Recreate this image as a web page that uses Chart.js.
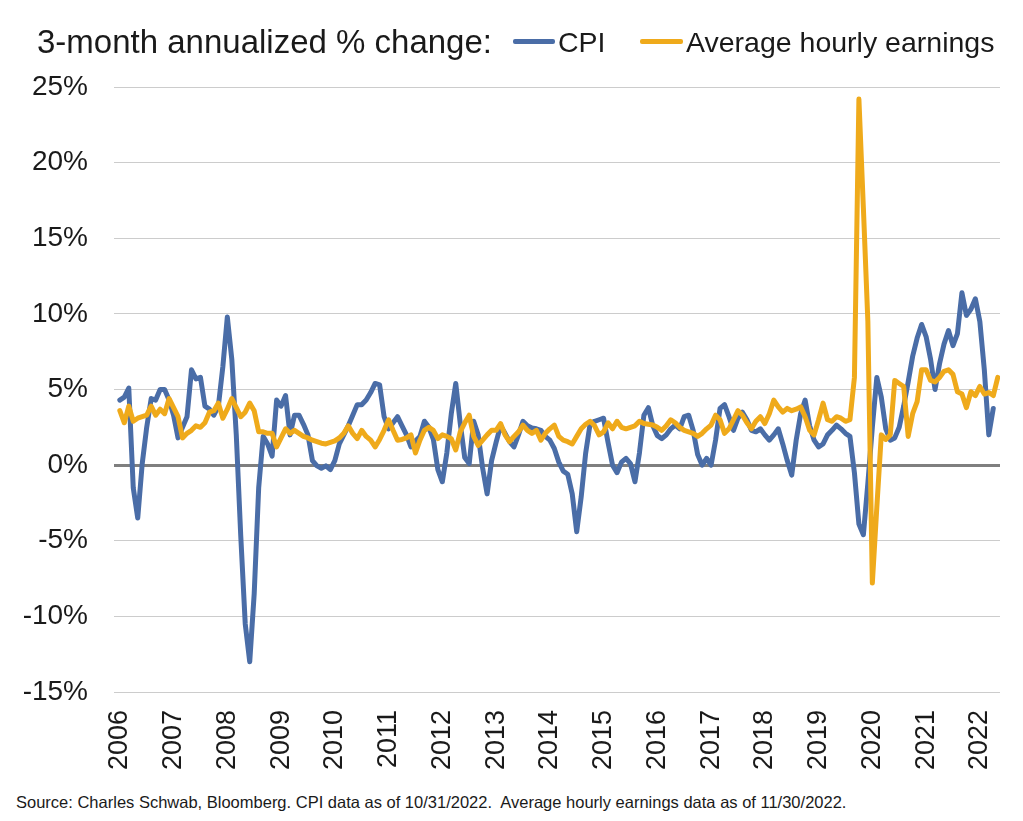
<!DOCTYPE html>
<html>
<head>
  <meta charset="utf-8" />
  <title>CPI vs Average hourly earnings</title>
  <script src="https://cdn.jsdelivr.net/npm/chart.js"></script>
  <style>
    body { margin: 0; background: #fff; font-family: 'Liberation Sans', Arial, sans-serif; color: #1a1a1a; }
    #wrap { position: relative; width: 1023px; height: 821px; overflow: hidden; }
    #box { position: absolute; left: 0; top: 0; width: 1023px; height: 785px; }
    .txt { position: absolute; white-space: nowrap; }
    .ttl { left: 37px; top: 25px; font-size: 33px; line-height: 33px; }
    .lab { top: 28px; font-size: 28.5px; line-height: 28.5px; }
    .key { position: absolute; top: 39px; height: 5px; border-radius: 2px; }
    #src { left: 16px; top: 794px; font-size: 16.5px; line-height: 17px; }
  </style>
</head>
<body>
<div id="wrap">
  <div id="box"><canvas id="chart"></canvas></div>
  <div class="txt ttl">3-month annualized % change:</div>
  <div class="key" style="left:513px;width:42px;background:#4A6DA7"></div>
  <div class="txt lab" style="left:558px">CPI</div>
  <div class="key" style="left:640px;width:43px;background:#EFAA1B"></div>
  <div class="txt lab" style="left:686px">Average hourly earnings</div>
  <div class="txt" id="src">Source: Charles Schwab, Bloomberg. CPI data as of 10/31/2022.&nbsp; Average hourly earnings data as of 11/30/2022.</div>
</div>

<script>
// monthly points, first one is Jul 2006; year labels sit on July of each year
const years = ['2006','2007','2008','2009','2010','2011','2012','2013','2014','2015','2016','2017','2018','2019','2020','2021','2022'];

// CPI, 3-month annualized % change (Jul 2006 - Oct 2022)
const cpi = [
  4.3, 4.5, 5.1, -1.5, -3.5, 0.1, 2.5, 4.4, 4.3, 5.0, 5.0, 4.3,
  3.3, 1.8, 2.5, 3.2, 6.3, 5.7, 5.8, 3.9, 3.7, 3.3, 3.9, 6.5,
  9.8, 7.0, 2.0, -4.7, -10.5, -13.0, -8.5, -1.5, 1.9, 1.4, 0.6, 4.3,
  3.9, 4.6, 2.0, 3.3, 3.3, 2.7, 2.0, 0.3, -0.05, -0.2, -0.05, -0.3,
  0.3, 1.4, 2.0, 2.6, 3.3, 4.0, 4.0, 4.3, 4.8, 5.4, 5.3, 3.2,
  2.4, 2.8, 3.2, 2.6, 2.0, 1.2, 1.6, 1.9, 2.9, 2.5, 1.7, -0.3,
  -1.1, 0.8, 3.4, 5.4, 2.75, 0.5, 0.1, 2.9, 2.0, -0.2, -1.9, 0.3,
  1.5, 2.6, 2.1, 1.55, 1.2, 2.0, 2.9, 2.6, 2.45, 2.4, 2.3, 1.9,
  1.65, 1.1, 0.2, -0.4, -0.6, -1.9, -4.4, -2.1, 0.8, 2.75, 2.9, 3.0,
  3.1, 1.5, 0.0, -0.5, 0.2, 0.45, 0.1, -1.1, 0.8, 3.3, 3.8, 2.6,
  1.95, 1.75, 2.0, 2.4, 2.65, 2.4, 3.2, 3.3, 2.3, 0.7, 0.0, 0.45,
  0.0, 1.65, 3.75, 4.0, 3.2, 2.3, 3.1, 3.5, 3.0, 2.3, 2.2, 2.4,
  2.0, 1.65, 2.0, 2.4, 1.4, 0.3, -0.66, 1.65, 3.4, 4.3, 2.6, 1.65,
  1.2, 1.4, 2.0, 2.3, 2.65, 2.4, 2.1, 1.9, -0.5, -3.9, -4.6, -1.2,
  2.5, 5.8, 4.5, 2.4, 1.65, 1.8, 2.5, 3.9, 5.5, 7.2, 8.4, 9.3,
  8.5, 7.0, 5.0, 6.7, 8.0, 8.9, 7.9, 8.7, 11.4, 9.9, 10.3, 11.0,
  9.5, 6.3, 2.0, 3.75
];

// Average hourly earnings, 3-month annualized % change (Jul 2006 - Nov 2022)
const earnings = [
  3.6, 2.8, 3.9, 2.9, 3.1, 3.2, 3.3, 3.9, 3.3, 3.7, 3.4, 4.4,
  3.8, 3.2, 1.8, 2.1, 2.3, 2.6, 2.5, 2.8, 3.5, 3.6, 4.1, 3.1,
  3.7, 4.4, 3.8, 3.2, 3.5, 4.1, 3.6, 2.2, 2.2, 2.1, 2.1, 1.2,
  1.8, 2.4, 2.1, 2.3, 2.1, 1.9, 1.8, 1.65, 1.55, 1.45, 1.4, 1.5,
  1.6, 1.8, 2.1, 2.6, 2.1, 1.75, 2.3, 1.9, 1.65, 1.2, 1.7, 2.3,
  3.0, 2.3, 1.65, 1.7, 1.8, 2.0, 0.8, 1.65, 2.3, 2.5, 2.3, 1.75,
  2.0, 1.9, 1.75, 1.0, 2.2, 2.8, 3.3, 1.9, 1.3, 1.65, 2.0, 2.3,
  2.3, 2.75, 2.0, 1.55, 1.9, 2.2, 2.65, 2.3, 2.1, 2.3, 1.65, 2.1,
  2.4, 2.65, 1.9, 1.65, 1.55, 1.4, 1.9, 2.4, 2.7, 2.9, 2.6, 2.0,
  2.2, 2.8, 2.4, 2.9, 2.5, 2.4, 2.5, 2.6, 2.9, 2.75, 2.7, 2.65,
  2.5, 2.3, 2.6, 3.0, 2.8, 2.5, 2.3, 2.2, 2.1, 1.9, 2.1, 2.4,
  2.65, 3.3, 3.0, 2.1, 2.4, 3.0, 3.6, 3.3, 2.8, 2.4, 2.9, 3.2,
  2.75, 3.4, 4.3, 3.85, 3.5, 3.75, 3.6, 3.7, 3.85, 3.2, 2.3, 2.0,
  3.0, 4.1, 3.0, 2.9, 3.2, 3.1, 2.9, 3.0, 5.8, 24.2, 17.0, 9.5,
  -7.8, -2.8, 2.0, 1.7, 2.0, 5.6, 5.4, 5.2, 1.9, 3.4, 4.2, 6.3,
  6.3, 5.6, 5.5, 5.8, 6.2, 6.3, 6.0, 4.85, 4.7, 3.8, 4.85, 4.6,
  5.2, 4.7, 4.8, 4.6, 5.8
];

const yTicks = [-15, -10, -5, 0, 5, 10, 15, 20, 25];

Chart.defaults.font.family = "'Liberation Sans', Arial, sans-serif";
Chart.defaults.color = '#1a1a1a';

const toPoints = arr => arr.map((v, i) => ({ x: i, y: v }));

new Chart(document.getElementById('chart').getContext('2d'), {
  type: 'line',
  data: {
    datasets: [
      {
        label: 'Average hourly earnings',
        data: toPoints(earnings),
        borderColor: '#EFAA1B',
        borderWidth: 5,
        order: 1
      },
      {
        label: 'CPI',
        data: toPoints(cpi),
        borderColor: '#4A6DA7',
        borderWidth: 5,
        order: 2
      }
    ]
  },
  options: {
    responsive: true,
    maintainAspectRatio: false,
    animation: false,
    layout: { padding: { top: 87, right: 23, left: 0, bottom: 0 } },
    elements: {
      point: { radius: 0 },
      line: { tension: 0, borderJoinStyle: 'round', borderCapStyle: 'round' }
    },
    plugins: { legend: { display: false }, tooltip: { enabled: false } },
    scales: {
      x: {
        type: 'linear',
        min: -1.3,
        max: 196.5,
        afterBuildTicks: axis => { axis.ticks = years.map((y, k) => ({ value: k * 12 })); },
        afterFit: axis => { axis.height = 93; },
        grid: { display: false },
        border: { display: false },
        ticks: {
          autoSkip: false,
          minRotation: 90,
          maxRotation: 90,
          padding: 10,
          font: { size: 27 },
          callback: (v, i) => years[i]
        }
      },
      y: {
        min: -15,
        max: 25,
        afterBuildTicks: axis => { axis.ticks = yTicks.map(v => ({ value: v })); },
        afterFit: axis => { axis.width = 114; },
        border: { display: false },
        grid: {
          drawTicks: false,
          color: c => c.tick.value === 0 ? '#7f7f7f' : '#cccccc',
          lineWidth: c => c.tick.value === 0 ? 3 : 1
        },
        ticks: {
          padding: 26,
          font: { size: 28 },
          callback: v => v + '%'
        }
      }
    }
  }
});
</script>
</body>
</html>
